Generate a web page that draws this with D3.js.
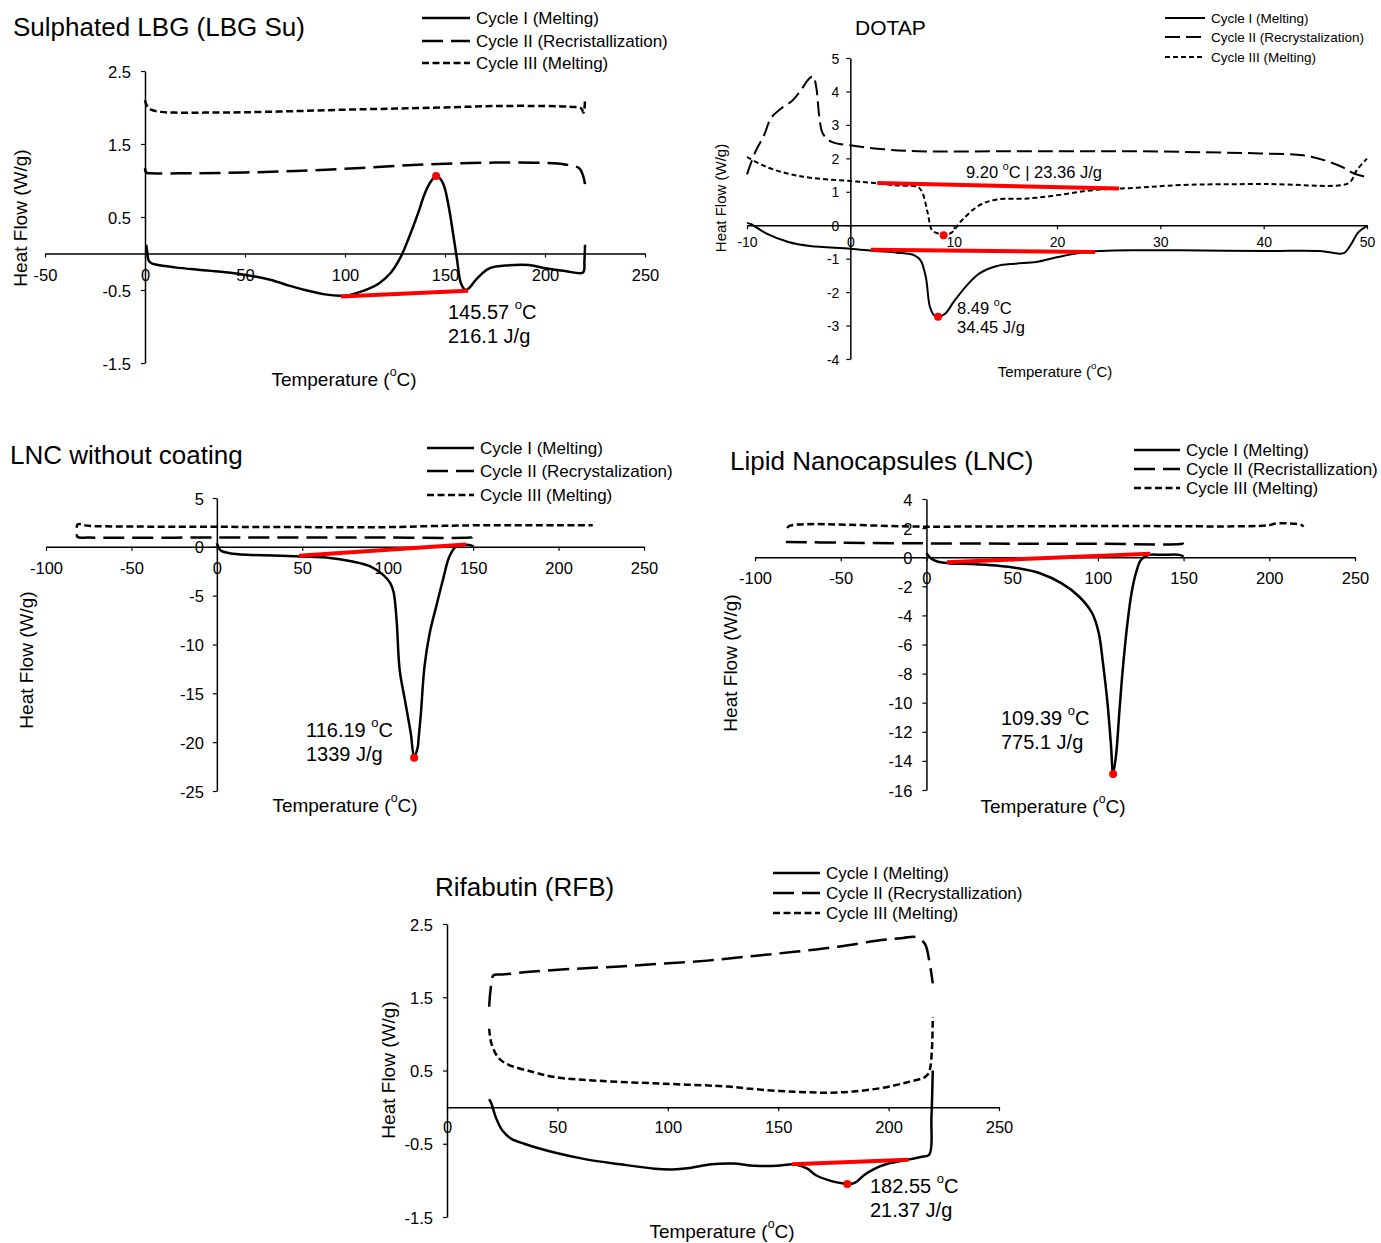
<!DOCTYPE html>
<html><head><meta charset="utf-8">
<script src="https://cdn.jsdelivr.net/npm/d3@7"></script>
<style>body{margin:0;background:#fff}</style>
</head><body><svg id="c" width="1381" height="1243" style="display:block;background:#fff"></svg>
<script>
// ---------------- DATA ----------------
const legendA = ["Cycle I (Melting)","Cycle II (Recristallization)","Cycle III (Melting)"];
const legendB = ["Cycle I (Melting)","Cycle II (Recrystalization)","Cycle III (Melting)"];
const legendC = ["Cycle I (Melting)","Cycle II (Recrystallization)","Cycle III (Melting)"];

// Sulphated LBG
const lbgXTicks = [-50,0,50,100,150,200,250];
const lbgYTicks = [-1.5,-0.5,0.5,1.5,2.5];
const lbgCycle1 = [[0.6,0.12],[1.2,0.0],[1.7,-0.09],[3,-0.13],[6,-0.155],[15,-0.19],[25.6,-0.22],[38,-0.25],[49.6,-0.29],[62.6,-0.36],[72,-0.44],[80,-0.5],[90,-0.56],[97.4,-0.58],[102,-0.57],[106,-0.54],[112,-0.48],[117,-0.41],[123,-0.26],[128,-0.04],[132,0.22],[136.5,0.55],[140,0.83],[143,0.99],[145.6,1.06],[147.5,1.03],[149.6,0.92],[152,0.62],[154,0.28],[156,-0.08],[158,-0.41],[160.4,-0.50],[162.5,-0.46],[164.8,-0.38],[168,-0.29],[171,-0.22],[175,-0.18],[180,-0.165],[188.7,-0.155],[195,-0.17],[199.6,-0.20],[210,-0.24],[219,-0.26],[219.7,-0.1],[220,0.12]];
const lbgCycle2 = [[0,1.17],[0.6,1.11],[3,1.10],[25,1.10],[50,1.11],[75,1.13],[100,1.16],[125,1.20],[150,1.23],[175,1.245],[200,1.24],[210,1.22],[217,1.17],[219,1.07],[220,0.95]];
const lbgCycle3 = [[0,2.1],[1,2.02],[3,1.97],[8,1.94],[15,1.93],[30,1.93],[50,1.935],[75,1.95],[100,1.97],[125,1.985],[150,2.0],[175,2.02],[200,2.02],[212,2.01],[218,1.99],[219.3,1.93],[220,2.1]];
const lbgBase = [[98,-0.59],[161.5,-0.51]];
const lbgPeaks = [[145.57,1.06]];
const lbgNotes = ["145.57 ºC","216.1 J/g"];

// DOTAP
const dotapXTicks = [-10,0,10,20,30,40,50];
const dotapYTicks = [-4,-3,-2,-1,0,1,2,3,4,5];
const dotapCycle1 = [[-10,0.07],[-9.6,0.03],[-8.1,-0.25],[-6,-0.5],[-3.9,-0.62],[0,-0.70],[2.4,-0.77],[4.5,-0.82],[6.2,-0.90],[6.8,-1.05],[7.3,-1.54],[7.7,-2.44],[8.1,-2.69],[8.49,-2.74],[9.2,-2.64],[10,-2.29],[11.3,-1.79],[12.5,-1.44],[14.2,-1.22],[15.9,-1.15],[18,-1.10],[20.1,-0.95],[22.2,-0.82],[24.3,-0.77],[27.7,-0.75],[31.9,-0.75],[40.4,-0.77],[45.4,-0.77],[47.3,-0.85],[47.8,-0.83],[48.4,-0.6],[49.2,-0.2],[50,-0.03]];
const dotapCycle2 = [[-10,1.52],[-9.2,2.19],[-8.35,2.69],[-7.7,3.19],[-6.7,3.49],[-5.6,3.73],[-4.8,4.03],[-4.0,4.38],[-3.6,4.45],[-3.3,4.13],[-3.0,3.24],[-2.66,2.74],[-1.8,2.49],[0,2.39],[3.25,2.27],[6.6,2.21],[15,2.21],[27.7,2.21],[36.2,2.17],[40.4,2.14],[43.8,2.09],[45.9,1.94],[47.6,1.74],[48.8,1.54],[50,1.44]];
const dotapCycle3 = [[-10,2.04],[-8.1,1.74],[-6,1.54],[-3.9,1.42],[0,1.32],[2.4,1.26],[4.5,1.19],[6.6,1.13],[7.0,0.95],[7.5,0.35],[7.9,-0.15],[8.5,-0.25],[9.0,-0.30],[9.8,-0.22],[10.8,0.15],[12.5,0.60],[14.2,0.77],[17.2,0.80],[20.1,0.90],[23.5,1.05],[27.7,1.12],[31.9,1.20],[40.4,1.23],[47.6,1.20],[48.4,1.30],[49.0,1.64],[50,1.99]];
const dotapBase1 = [[2.0,-0.73],[23.7,-0.80]];
const dotapBase3 = [[2.6,1.26],[26,1.10]];
const dotapPeaks = [[8.49,-2.74],[9.03,-0.30]];
const dotapNotes = ["9.20 ºC | 23.36 J/g","8.49 ºC","34.45 J/g"];

// LNC without coating
const lncWoXTicks = [-100,-50,0,50,100,150,200,250];
const lncWoYTicks = [-25,-20,-15,-10,-5,0,5];
const lncWoCycle1 = [[0,0.38],[2.3,-0.38],[7.5,-0.65],[17.8,-0.82],[33,-0.89],[48.6,-0.99],[64,-1.09],[79.5,-1.5],[89.8,-2.0],[97.5,-2.9],[101.4,-3.7],[103.4,-4.6],[105.2,-7.5],[107,-12.6],[110.4,-16],[113.5,-19.1],[115.5,-21.5],[117.6,-20.5],[118,-19.8],[119.4,-17.1],[121.5,-12.3],[124.5,-8.9],[128.4,-6.1],[132.3,-3.4],[136.1,-1.0],[140,0.03],[143.8,0.2],[147.7,0.2],[150.3,0.03]];
const lncWoCycle2 = [[-82,1.3],[-81.5,1.0],[-75,0.95],[0,0.95],[100,0.95],[148,0.95],[149.5,1.0],[150,1.3]];
const lncWoCycle3 = [[-82,1.95],[-81.5,2.3],[-75,2.15],[-50,2.08],[0,2.05],[50,2.02],[100,2.02],[125,2.12],[150,2.2],[220,2.2]];
const lncWoBase = [[48.1,-0.92],[145.9,0.24]];
const lncWoPeaks = [[115.5,-21.6]];
const lncWoNotes = ["116.19 ºC","1339 J/g"];

// Lipid Nanocapsules
const lncXTicks = [-100,-50,0,50,100,150,200,250];
const lncYTicks = [-16,-14,-12,-10,-8,-6,-4,-2,0,2,4];
const lncCycle1 = [[0,0.28],[2.5,-0.07],[6.4,-0.3],[12.7,-0.41],[25.5,-0.46],[40.7,-0.57],[53.4,-0.76],[66.2,-1.1],[78.9,-1.8],[89,-2.7],[96.7,-3.85],[100.5,-5.2],[103,-7.3],[105.6,-10.0],[107.7,-13.0],[108.9,-14.9],[110.7,-13.5],[112.5,-10.7],[114.5,-7.75],[117,-4.8],[119.6,-2.5],[122.2,-1.1],[125.2,-0.18],[129.8,0.16],[137.4,0.16],[147.6,0.16],[150,0.05]];
const lncCycle2 = [[-82,1.05],[-50,1.0],[0,0.95],[50,0.93],[100,0.92],[148,0.9],[149.5,0.95],[150,1.2]];
const lncCycle3 = [[-81,2.0],[-80,2.15],[0,2.1],[100,2.15],[200,2.2],[203,2.3],[215,2.3],[219,2.2],[220,2.1]];
const lncBase = [[12,-0.34],[130.6,0.23]];
const lncPeaks = [[108.9,-14.9]];
const lncNotes = ["109.39 ºC","775.1 J/g"];

// Rifabutin
const rfbXTicks = [0,50,100,150,200,250];
const rfbYTicks = [-1.5,-0.5,0.5,1.5,2.5];
const rfbCycle1 = [[19.1,0.11],[20.1,0.05],[22.1,-0.14],[25.1,-0.32],[29,-0.43],[34.9,-0.50],[48.7,-0.62],[62.5,-0.71],[78.3,-0.78],[94.1,-0.84],[102,-0.85],[109.9,-0.83],[119.8,-0.78],[129.6,-0.77],[139.5,-0.80],[149.4,-0.80],[157.3,-0.78],[163.2,-0.84],[167.1,-0.93],[173.1,-1.00],[179,-1.04],[181.3,-1.05],[184.9,-1.03],[188.8,-0.93],[193.8,-0.84],[198.7,-0.78],[206.6,-0.73],[214.5,-0.68],[218.4,-0.65],[219.4,-0.14],[220,0.5]];
const rfbCycle2 = [[19.1,1.37],[19.7,1.59],[21.1,1.80],[25,1.81],[38.9,1.85],[58.6,1.89],[78.3,1.92],[98,1.96],[117.8,2.0],[137.5,2.06],[157.3,2.12],[177,2.19],[196.7,2.28],[206.6,2.31],[212.5,2.32],[216.4,2.23],[218.4,2.0],[220,1.69]];
const rfbCycle3 = [[19.1,1.07],[20.1,0.87],[23.1,0.68],[27,0.59],[38.9,0.48],[48.7,0.41],[68.5,0.36],[98,0.32],[127.7,0.28],[137.5,0.25],[157.3,0.21],[177,0.20],[196.7,0.26],[208.6,0.34],[216.4,0.41],[218.4,0.48],[220,1.23]];
const rfbBase = [[156.3,-0.78],[209,-0.72]];
const rfbPeaks = [[181.3,-1.05]];
const rfbNotes = ["182.55 ºC","21.37 J/g"];

// ---------------- LAYOUT ----------------
const FONT = "'Liberation Sans', Arial, sans-serif";
const big = {tick:4, tickFs:16.5, yLabOff:14, lw:2.5, dashL:"21,8", dashS:"7,3.5", titleFs:26, legFs:17, axFs:19, noteFs:20};
const panels = [
 {title:"Sulphated LBG (LBG Su)", legend:legendA, xDomain:[-50,250], yDomain:[-1.5,2.5], xTicks:lbgXTicks, yTicks:lbgYTicks,
  c1:lbgCycle1, c2:lbgCycle2, c3:lbgCycle3, bases:[lbgBase], peaks:lbgPeaks, notes:lbgNotes,
  L:Object.assign({}, big, {xRange:[45,645], yRange:[363,71], xLabOff:21, titleX:13, titleY:27, legX:422, legW:48, legYs:[18,41,63],
    yTitleX:20, yTitleY:218, xTitleX:344, xTitleY:379, notePos:[[448,312],[448,336]]})},
 {title:"DOTAP", legend:legendB, xDomain:[-10,50], yDomain:[-4,5], xTicks:dotapXTicks, yTicks:dotapYTicks,
  c1:dotapCycle1, c2:dotapCycle2, c3:dotapCycle3, bases:[dotapBase1,dotapBase3], peaks:dotapPeaks, notes:dotapNotes,
  L:{tick:4, tickFs:14, yLabOff:11, lw:2.0, dashL:"15,6", dashS:"5,3", titleFs:21, legFs:13.5, axFs:15, noteFs:16.5,
    xRange:[747,1367], yRange:[359,58], xLabOff:17, titleX:855, titleY:27, legX:1165, legW:40, legYs:[18,37,57],
    yTitleX:720, yTitleY:198, xTitleX:1055, xTitleY:371, notePos:[[966,172],[957,308],[957,327]]}},
 {title:"LNC without coating", legend:legendB, xDomain:[-100,250], yDomain:[-25,5], xTicks:lncWoXTicks, yTicks:lncWoYTicks,
  c1:lncWoCycle1, c2:lncWoCycle2, c3:lncWoCycle3, bases:[lncWoBase], peaks:lncWoPeaks, notes:lncWoNotes,
  L:Object.assign({}, big, {xRange:[46,644], yRange:[791,498], xLabOff:21, yLabOff:13, titleX:10, titleY:455, legX:427, legW:47, legYs:[448,471,495],
    yTitleX:26, yTitleY:660, xTitleX:345, xTitleY:805, notePos:[[306,730],[306,754]]})},
 {title:"Lipid Nanocapsules (LNC)", legend:legendA, xDomain:[-100,250], yDomain:[-16,4], xTicks:lncXTicks, yTicks:lncYTicks,
  c1:lncCycle1, c2:lncCycle2, c3:lncCycle3, bases:[lncBase], peaks:lncPeaks, notes:lncNotes,
  L:Object.assign({}, big, {xRange:[755,1355], yRange:[790,499], xLabOff:21, titleX:730, titleY:461, legX:1134, legW:46, legYs:[450,469,488],
    yTitleX:730, yTitleY:663, xTitleX:1053, xTitleY:806, notePos:[[1001,718],[1001,742]]})},
 {title:"Rifabutin (RFB)", legend:legendC, xDomain:[0,250], yDomain:[-1.5,2.5], xTicks:rfbXTicks, yTicks:rfbYTicks,
  c1:rfbCycle1, c2:rfbCycle2, c3:rfbCycle3, bases:[rfbBase], peaks:rfbPeaks, notes:rfbNotes,
  L:Object.assign({}, big, {xRange:[447,999], yRange:[1217,924], xLabOff:20, titleX:435, titleY:887, legX:773, legW:47, legYs:[873,893,913],
    yTitleX:388, yTitleY:1070, xTitleX:722, xTitleY:1231, notePos:[[870,1186],[870,1210]]})}
];

// ---------------- DRAW ----------------
const svg = d3.select("#c");
function degText(sel, str){
  const parts = str.split("º");
  sel.append("tspan").text(parts[0]);
  for(let i=1;i<parts.length;i++){
    sel.append("tspan").attr("baseline-shift","super").attr("font-size","65%").text("o");
    sel.append("tspan").text(parts[i]);
  }
}
function drawPanel(p){
  const L = p.L;
  const g = svg.append("g").attr("font-family", FONT).attr("fill","#000");
  const x = d3.scaleLinear().domain(p.xDomain).range(L.xRange);
  const y = d3.scaleLinear().domain(p.yDomain).range(L.yRange);

  const gx = g.append("g").attr("transform",`translate(0,${y(0)})`)
    .call(d3.axisBottom(x).tickValues(p.xTicks).tickFormat(d=>String(d)).tickSize(L.tick).tickSizeOuter(0));
  gx.attr("font-family", FONT).attr("font-size", L.tickFs);
  gx.selectAll("text").attr("y", L.xLabOff).attr("dy", null).attr("dominant-baseline","central").attr("fill","#000");
  gx.select(".domain").attr("stroke","#000").attr("stroke-width",1.5);
  gx.selectAll(".tick line").attr("stroke","#000").attr("stroke-width",1.2);

  const gy = g.append("g").attr("transform",`translate(${x(0)},0)`)
    .call(d3.axisLeft(y).tickValues(p.yTicks).tickFormat(d=>String(d)).tickSize(L.tick).tickSizeOuter(0));
  gy.attr("font-family", FONT).attr("font-size", L.tickFs);
  gy.selectAll("text").attr("x", -L.yLabOff).attr("dy", null).attr("dominant-baseline","central").attr("fill","#000");
  gy.select(".domain").attr("stroke","#000").attr("stroke-width",1.5);
  gy.selectAll(".tick line").attr("stroke","#000").attr("stroke-width",1.2);

  const line = d3.line().x(d=>x(d[0])).y(d=>y(d[1])).curve(d3.curveCatmullRom.alpha(0.5));
  const styles = [null, L.dashL, L.dashS];
  [p.c3, p.c2, p.c1].forEach((c,i)=>{
    const idx = 2-i;
    g.append("path").datum(c).attr("d", line).attr("fill","none").attr("stroke","#000")
      .attr("stroke-width", L.lw).attr("stroke-dasharray", styles[idx]).attr("stroke-linejoin","round");
  });
  const lin = d3.line().x(d=>x(d[0])).y(d=>y(d[1]));
  p.bases.forEach(b=>{
    g.append("path").datum(b).attr("d", lin).attr("fill","none").attr("stroke","#ff0000").attr("stroke-width",4);
  });
  g.selectAll("circle.pk").data(p.peaks).join("circle").attr("class","pk")
    .attr("cx",d=>x(d[0])).attr("cy",d=>y(d[1])).attr("r",4).attr("fill","#ff0000");

  g.append("text").attr("x",L.titleX).attr("y",L.titleY).attr("dominant-baseline","central")
    .attr("font-size",L.titleFs).text(p.title);
  p.legend.forEach((t,i)=>{
    const yy = L.legYs[i];
    g.append("line").attr("x1",L.legX).attr("x2",L.legX+L.legW).attr("y1",yy).attr("y2",yy)
      .attr("stroke","#000").attr("stroke-width",L.lw).attr("stroke-dasharray",styles[i]);
    g.append("text").attr("x",L.legX+L.legW+6).attr("y",yy).attr("dominant-baseline","central")
      .attr("font-size",L.legFs).text(t);
  });
  g.append("text").attr("transform",`translate(${L.yTitleX},${L.yTitleY}) rotate(-90)`)
    .attr("text-anchor","middle").attr("dominant-baseline","central").attr("font-size",L.axFs).text("Heat Flow (W/g)");
  const xt = g.append("text").attr("x",L.xTitleX).attr("y",L.xTitleY).attr("text-anchor","middle")
    .attr("dominant-baseline","central").attr("font-size",L.axFs);
  degText(xt, "Temperature (ºC)");
  p.notes.forEach((n,i)=>{
    const t = g.append("text").attr("x",L.notePos[i][0]).attr("y",L.notePos[i][1])
      .attr("dominant-baseline","central").attr("font-size",L.noteFs);
    degText(t, n);
  });
}
panels.forEach(drawPanel);
</script>
</body></html>
